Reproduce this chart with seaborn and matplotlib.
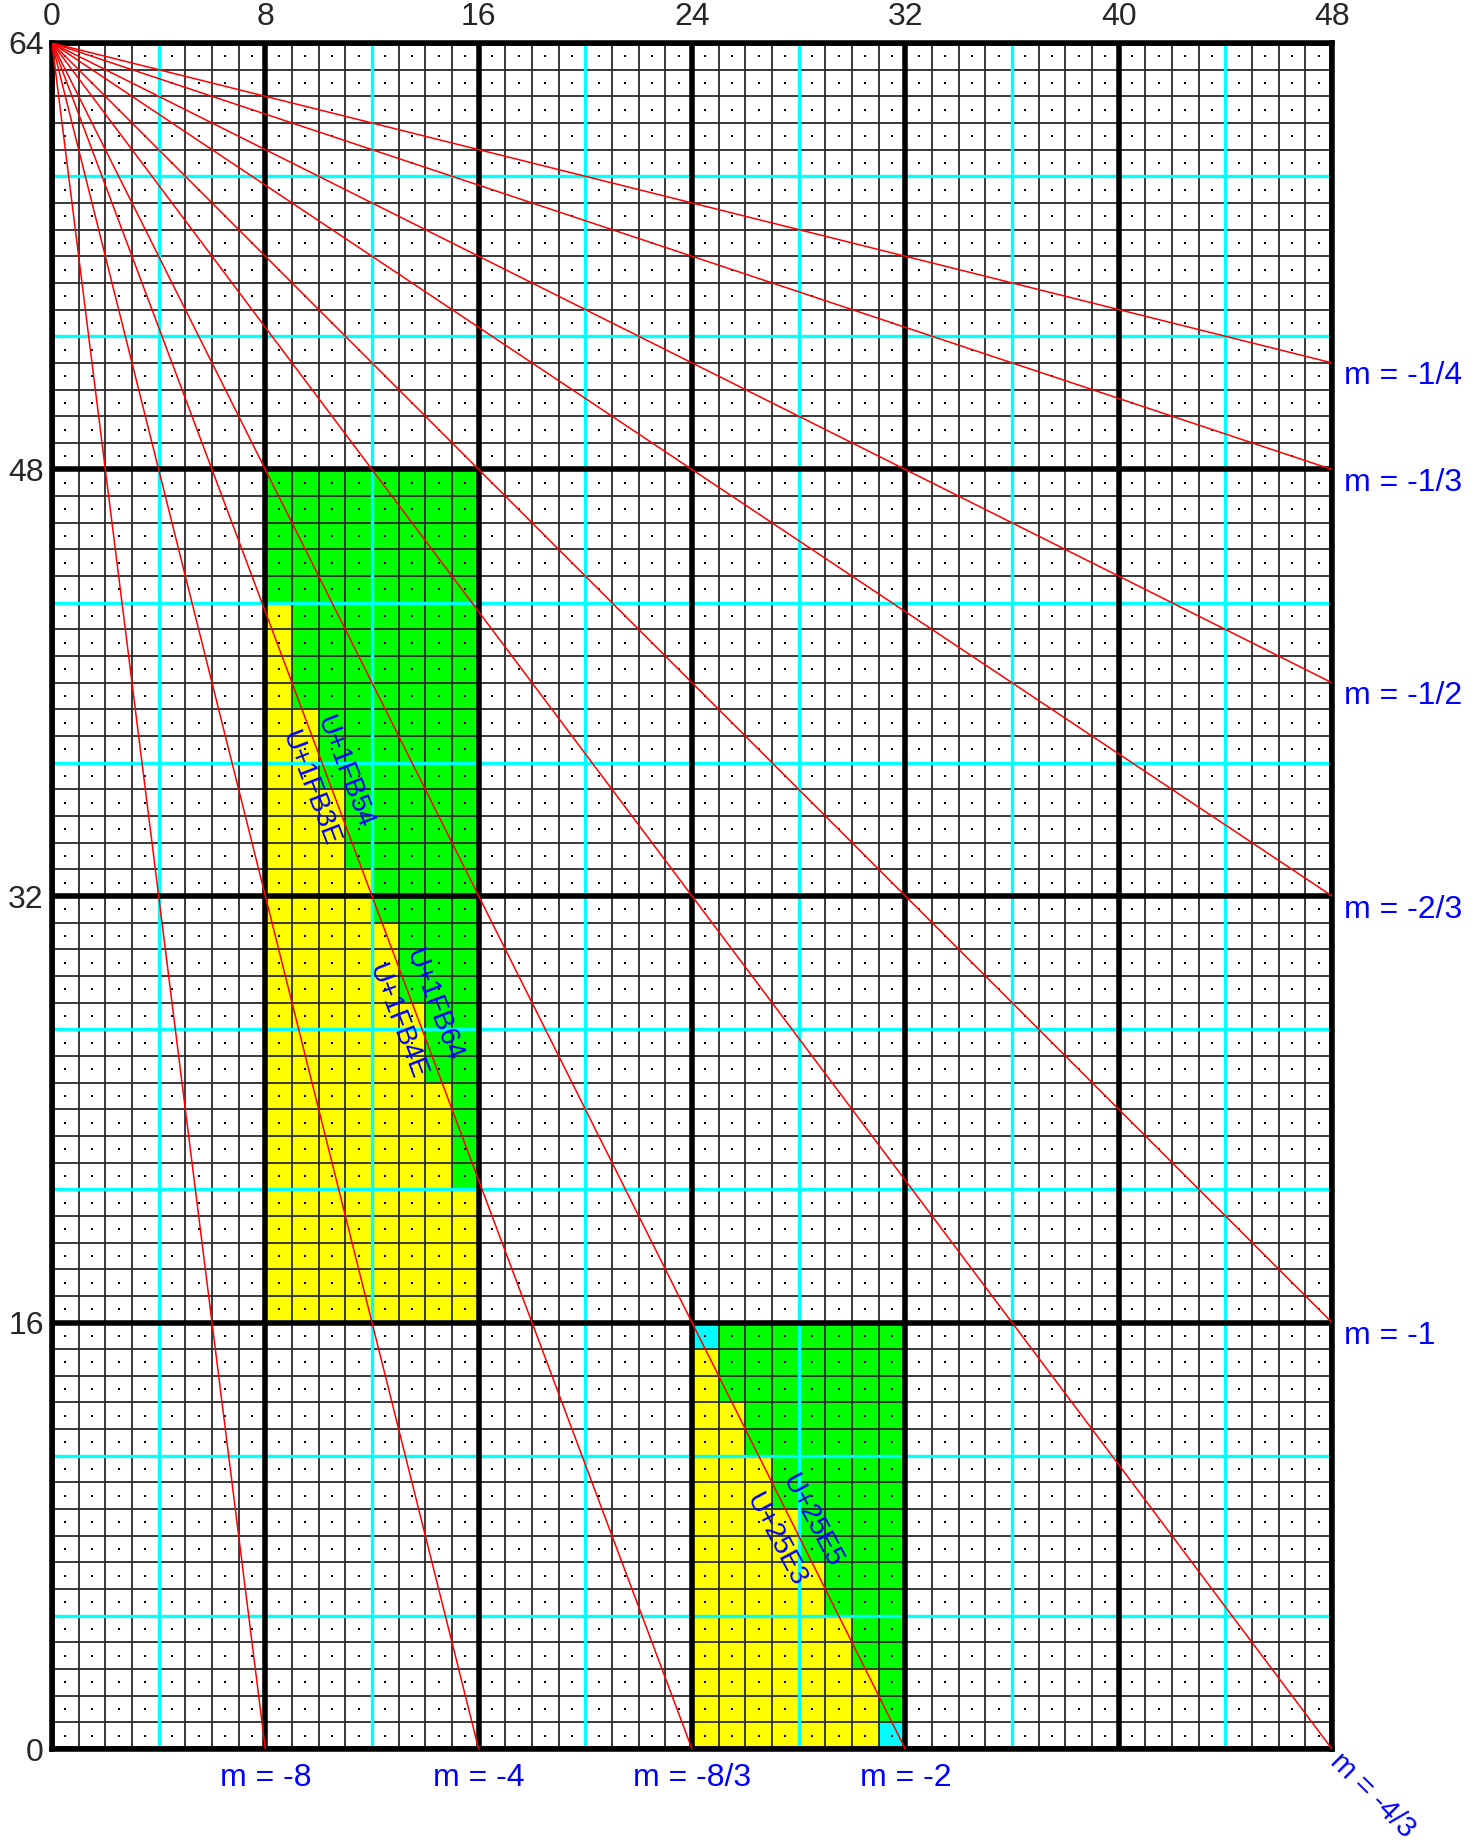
import matplotlib
matplotlib.use("Agg")
import matplotlib.pyplot as plt
import numpy as np
import pandas as pd
import seaborn as sns

# ---------------- data ----------------
# red lines from the top-left corner (0, 64) to these end points
slope_labels = ["m = -8", "m = -4", "m = -8/3", "m = -2", "m = -4/3",
                "m = -1", "m = -2/3", "m = -1/2", "m = -1/3", "m = -1/4"]
end_x = [8, 16, 24, 32, 48, 48, 48, 48, 48, 48]
end_y = [0, 0, 0, 0, 0, 16, 32, 40, 48, 52]

# block 1 (columns 8-16): yellow width per row, rows 47 down to 16
block1_left = 8
block1_rows = list(range(47, 15, -1))
block1_yellow = [0, 0, 0, 0, 0, 1, 1, 1, 1, 2, 2, 2, 3, 3, 3, 4,
                 4, 5, 5, 5, 6, 6, 6, 7, 7, 7, 7, 8, 8, 8, 8, 8]

# block 2 (columns 24-32): yellow width per row, rows 15 down to 0
block2_left = 24
block2_rows = list(range(15, -1, -1))
block2_yellow = [0, 1, 1, 2, 2, 3, 3, 4, 4, 5, 5, 6, 6, 7, 7, 7]
cyan_cells_x = [24, 31]
cyan_cells_y = [15, 0]

# rotated code point labels
codes = ["U+1FB54", "U+1FB3E", "U+1FB64", "U+1FB4E", "U+25E5", "U+25E3"]
code_x = [10.99, 9.67, 14.32, 12.93, 28.51, 27.14]
code_y = [36.61, 36.03, 27.88, 27.29, 8.53, 7.84]
code_angle = [-69, -69, -69, -69, -62, -62]

x_ticks = [0, 8, 16, 24, 32, 40, 48]
y_ticks = [0, 16, 32, 48, 64]
cyan_x = [4, 12, 20, 28, 36, 44]
cyan_y = [5, 11, 21, 27, 37, 43, 53, 59]

# ---------------- plot ----------------
sns.set_style("white")
plt.rcParams["font.family"] = ["Liberation Sans", "DejaVu Sans"]

fig = plt.figure(figsize=(14.81, 18.42), dpi=100)
ax = fig.add_axes([52 / 1481, 1 - 1749 / 1842, 1280 / 1481, 1706 / 1842])

GREEN = "#00ff00"
YELLOW = "#ffff00"
CYAN = "#00ffff"
BLUE = "#0000ff"

# colored blocks: green background, yellow staircase, cyan corner cells
for left, rows, yellow in [(block1_left, block1_rows, block1_yellow),
                           (block2_left, block2_rows, block2_yellow)]:
    rows = np.array(rows)
    ax.barh(rows + 0.5, 8, left=left, height=1, color=GREEN, linewidth=0, zorder=1)
    ax.barh(rows + 0.5, yellow, left=left, height=1, color=YELLOW, linewidth=0, zorder=1)
ax.barh(np.array(cyan_cells_y) + 0.5, 1, left=cyan_cells_x, height=1,
        color=CYAN, linewidth=0, zorder=1)

# thin grid
for gx in range(1, 48):
    ax.axvline(gx, color="#2a2a2a", lw=1.3, zorder=2)
for gy in range(1, 64):
    ax.axhline(gy, color="#2a2a2a", lw=1.3, zorder=2)
for gx in cyan_x:
    ax.axvline(gx, color=CYAN, lw=2.4, zorder=3)
for gy in cyan_y:
    ax.axhline(gy, color=CYAN, lw=2.4, zorder=3)
for gx in x_ticks:
    ax.axvline(gx, color="black", lw=4, zorder=4)
for gy in y_ticks:
    ax.axhline(gy, color="black", lw=4, zorder=4)

# centre dots
cx, cy = np.meshgrid(np.arange(48) + 0.5, np.arange(64) + 0.5)
dots = pd.DataFrame({"x": cx.ravel(), "y": cy.ravel()})
sns.scatterplot(data=dots, x="x", y="y", ax=ax, color="black", marker="s",
                s=1.6, linewidth=0, zorder=5, legend=False)

# red slope lines
lines = pd.DataFrame({
    "x": [v for ex in end_x for v in (0, ex)],
    "y": [v for ey in end_y for v in (64, ey)],
    "line": [i for i in range(len(end_x)) for _ in range(2)],
})
sns.lineplot(data=lines, x="x", y="y", units="line", estimator=None, sort=False,
             color="red", lw=1.1, ax=ax, zorder=6, legend=False)

# slope labels
for lab, ex, ey in zip(slope_labels, end_x, end_y):
    if ey == 0 and ex < 48:
        ax.annotate(lab, (ex, ey), xytext=(0, -10), textcoords="offset points",
                    ha="center", va="top", color=BLUE, fontsize=23,
                    annotation_clip=False)
    elif ey == 0:
        ax.annotate(lab, (ex, ey), xytext=(9, 1), textcoords="offset points",
                    ha="left", va="top", color=BLUE, fontsize=21, rotation=-45,
                    rotation_mode="anchor", annotation_clip=False)
    else:
        ax.annotate(lab, (ex, ey), xytext=(9, 1), textcoords="offset points",
                    ha="left", va="top", color=BLUE, fontsize=23,
                    annotation_clip=False)

# code point labels
for t, tx, ty, ang in zip(codes, code_x, code_y, code_angle):
    ax.text(tx, ty, t, rotation=ang, ha="center", va="center",
            rotation_mode="anchor", color=BLUE, fontsize=20, zorder=7)

ax.set_xlim(0, 48)
ax.set_ylim(0, 64)
ax.set_xlabel("")
ax.set_ylabel("")
ax.xaxis.tick_top()
ax.set_xticks(x_ticks)
ax.set_yticks(y_ticks)
ax.tick_params(axis="x", length=0, pad=8, labelsize=23)
ax.tick_params(axis="y", length=0, pad=6, labelsize=23)
for s in ax.spines.values():
    s.set_linewidth(4)
    s.set_color("black")
    s.set_zorder(4)

fig.savefig("out.png", dpi=100)
